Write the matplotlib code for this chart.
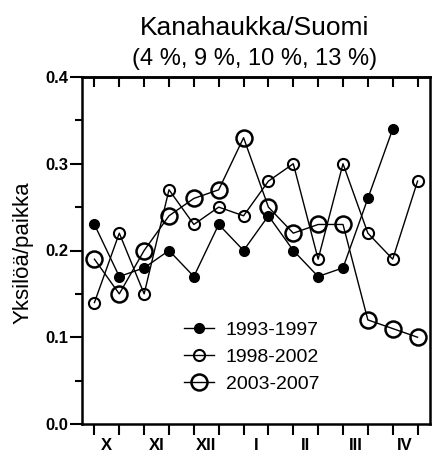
import matplotlib.pyplot as plt
import numpy as np

plt.rcParams['font.family'] = ['Liberation Sans', 'DejaVu Sans']

months = ["X", "XI", "XII", "I", "II", "III", "IV"]
periods = list(range(1, 15))

y_1993_1997 = [0.23, 0.17, 0.18, 0.20, 0.17, 0.23, 0.20, 0.24, 0.20, 0.17, 0.18, 0.26, 0.34, np.nan]
y_1998_2002 = [0.14, 0.22, 0.15, 0.27, 0.23, 0.25, 0.24, 0.28, 0.30, 0.19, 0.30, 0.22, 0.19, 0.28]
y_2003_2007 = [0.19, 0.15, 0.20, 0.24, 0.26, 0.27, 0.33, 0.25, 0.22, 0.23, 0.23, 0.12, 0.11, 0.10]

fig = plt.figure(figsize=(4.35, 4.53), dpi=100)
ax = fig.add_axes([82 / 435, 1 - 424 / 453, 348 / 435, 347 / 453])

ax.plot(periods, y_1993_1997, color="black", lw=1, marker="o", ms=7,
        mfc="black", mec="black", label="1993-1997")
ax.plot(periods, y_1998_2002, color="black", lw=1, marker="o", ms=8,
        mfc="none", mec="black", mew=1.5, label="1998-2002")
ax.plot(periods, y_2003_2007, color="black", lw=1, marker="o", ms=11.5,
        mfc="none", mec="black", mew=1.8, label="2003-2007")

ax.set_xlim(0.5, 14.5)
ax.set_ylim(0, 0.4)

# x: ticks on every half-month, month names between them
ax.set_xticks(periods)
ax.set_xticklabels([])
ax.set_xticks([1.5 + 2 * i for i in range(len(months))], minor=True)
ax.set_xticklabels(months, minor=True, fontsize=12, fontweight="bold")
ax.tick_params(axis="x", which="major", direction="out", length=8, width=1.5)
ax.tick_params(axis="x", which="minor", length=0, pad=10)

ax.set_yticks([0.0, 0.1, 0.2, 0.3, 0.4])
ax.set_yticklabels(["0.0", "0.1", "0.2", "0.3", "0.4"], fontsize=12, fontweight="bold")
ax.set_yticks(np.arange(0.05, 0.4, 0.1), minor=True)
ax.tick_params(axis="y", which="major", direction="out", length=9, width=1.5, pad=1)
ax.tick_params(axis="y", which="minor", direction="out", length=5, width=1.5)

top = ax.secondary_xaxis("top")
top.set_xticks(periods)
top.tick_params(direction="in", length=7, width=1.5, labeltop=False)

for s in ax.spines.values():
    s.set_linewidth(1.8)
top.spines["top"].set_linewidth(1.8)

ax.legend(loc="center", bbox_to_anchor=(0.487, 0.193), frameon=False,
          fontsize=14, handlelength=1.55, handletextpad=0.6, labelspacing=0.5)

fig.text(0.5855, 1 - 28 / 453, "Kanahaukka/Suomi", ha="center", va="center", fontsize=19)
fig.text(0.5855, 1 - 59 / 453, "(4 %, 9 %, 10 %, 13 %)", ha="center", va="center", fontsize=17)
fig.text(23 / 435, 1 - 253 / 453, "Yksilöä/paikka", rotation=90, ha="center", va="center", fontsize=16)

fig.savefig("out.png", dpi=100)
